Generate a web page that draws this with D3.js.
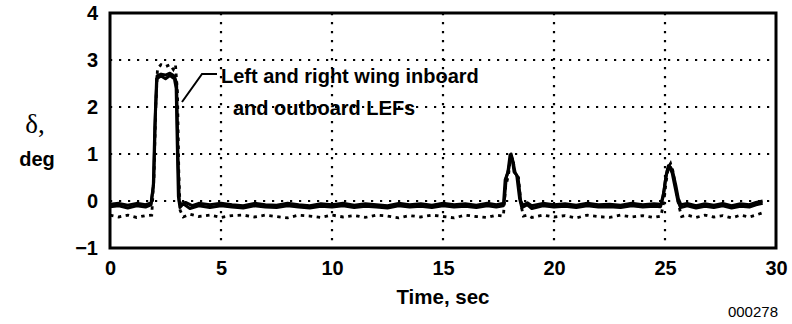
<!DOCTYPE html>
<html><head><meta charset="utf-8">
<script src="https://cdn.jsdelivr.net/npm/d3@7"></script>
<style>body{margin:0;background:#fff}svg{display:block}</style>
</head><body>
<script>
// ---- data ----
const xTicks = [0, 5, 10, 15, 20, 25, 30];
const yTicks = [-1, 0, 1, 2, 3, 4];
const yTickLabels = ["\u22121", "0", "1", "2", "3", "4"];
const xTitle = "Time, sec";
const yTitle1 = "\u03b4,";
const yTitle2 = "deg";
const noteLines = ["Left and right wing inboard", "and outboard LEFs"];
const figId = "000278";

// series: [time sec, deflection deg]
const inboardLEF = [[0,-0.12],[0.4,-0.1],[0.8,-0.15],[1.2,-0.1],[1.6,-0.13],[1.85,-0.08],[1.95,0.3],[2.02,1.6],[2.1,2.6],[2.3,2.66],[2.5,2.6],[2.7,2.67],[2.9,2.6],[2.98,2.4],[3.03,1.2],[3.08,0.1],[3.15,-0.14],[3.3,-0.06],[3.6,-0.16],[4,-0.1],[4.5,-0.14],[5,-0.1],[5.5,-0.13],[6,-0.15],[6.5,-0.1],[7,-0.13],[7.5,-0.14],[8,-0.1],[8.5,-0.13],[9,-0.15],[9.5,-0.11],[10,-0.13],[10.5,-0.1],[11,-0.14],[11.5,-0.11],[12,-0.13],[12.5,-0.15],[13,-0.1],[13.5,-0.13],[14,-0.11],[14.5,-0.14],[15,-0.1],[15.5,-0.13],[16,-0.11],[16.5,-0.14],[17,-0.1],[17.4,-0.13],[17.72,-0.1],[17.8,0.45],[17.92,0.6],[18.02,0.98],[18.12,0.9],[18.2,0.62],[18.32,0.55],[18.45,0.05],[18.55,-0.14],[18.8,-0.08],[19,-0.16],[19.5,-0.1],[20,-0.13],[20.5,-0.11],[21,-0.14],[21.5,-0.1],[22,-0.13],[22.5,-0.12],[23,-0.14],[23.5,-0.1],[24,-0.13],[24.5,-0.11],[24.8,-0.12],[24.92,0.1],[25.02,0.45],[25.12,0.68],[25.22,0.7],[25.32,0.6],[25.45,0.3],[25.58,0.0],[25.7,-0.14],[26,-0.1],[26.4,-0.15],[26.8,-0.11],[27.2,-0.14],[27.6,-0.1],[28,-0.15],[28.4,-0.11],[28.8,-0.13],[29.1,-0.08],[29.4,-0.05]];

const outboardLEF = [[0,-0.07],[0.4,-0.05],[0.8,-0.09],[1.2,-0.05],[1.6,-0.08],[1.85,-0.04],[1.97,0.4],[2.05,1.9],[2.12,2.66],[2.3,2.7],[2.5,2.68],[2.7,2.72],[2.9,2.66],[3.0,2.5],[3.06,1.0],[3.12,0.0],[3.2,-0.08],[3.4,-0.03],[3.7,-0.1],[4,-0.05],[4.5,-0.08],[5,-0.05],[5.5,-0.08],[6,-0.1],[6.5,-0.05],[7,-0.08],[7.5,-0.09],[8,-0.05],[8.5,-0.08],[9,-0.1],[9.5,-0.06],[10,-0.08],[10.5,-0.05],[11,-0.09],[11.5,-0.06],[12,-0.08],[12.5,-0.1],[13,-0.05],[13.5,-0.08],[14,-0.06],[14.5,-0.09],[15,-0.05],[15.5,-0.08],[16,-0.06],[16.5,-0.09],[17,-0.05],[17.4,-0.08],[17.75,-0.05],[17.85,0.5],[17.97,0.7],[18.07,1.0],[18.15,0.85],[18.25,0.6],[18.38,0.5],[18.5,0.0],[18.6,-0.09],[18.8,-0.04],[19,-0.1],[19.5,-0.05],[20,-0.08],[20.5,-0.06],[21,-0.09],[21.5,-0.05],[22,-0.08],[22.5,-0.07],[23,-0.09],[23.5,-0.05],[24,-0.08],[24.5,-0.06],[24.82,-0.07],[24.95,0.2],[25.05,0.55],[25.15,0.75],[25.25,0.72],[25.35,0.62],[25.48,0.35],[25.6,0.05],[25.72,-0.08],[26,-0.05],[26.4,-0.1],[26.8,-0.06],[27.2,-0.09],[27.6,-0.05],[28,-0.1],[28.4,-0.06],[28.8,-0.08],[29.1,-0.03],[29.4,0.0]];

const rightWingLEF = [[0,-0.3],[0.4,-0.34],[0.8,-0.3],[1.2,-0.35],[1.6,-0.31],[1.88,-0.3],[1.98,0.5],[2.06,2.0],[2.14,2.82],[2.3,2.9],[2.5,2.86],[2.7,2.9],[2.85,2.8],[2.95,2.9],[3.04,2.3],[3.1,0.6],[3.16,-0.2],[3.3,-0.34],[3.6,-0.28],[4,-0.33],[4.5,-0.3],[5,-0.35],[5.5,-0.31],[6,-0.3],[6.5,-0.34],[7,-0.3],[7.5,-0.33],[8,-0.36],[8.5,-0.3],[9,-0.32],[9.5,-0.35],[10,-0.3],[10.5,-0.34],[11,-0.31],[11.5,-0.35],[12,-0.3],[12.5,-0.32],[13,-0.36],[13.5,-0.31],[14,-0.34],[14.5,-0.3],[15,-0.33],[15.5,-0.36],[16,-0.3],[16.5,-0.33],[17,-0.35],[17.4,-0.3],[17.72,-0.32],[17.82,0.3],[17.95,0.55],[18.05,0.95],[18.15,0.9],[18.25,0.55],[18.4,0.5],[18.52,-0.1],[18.62,-0.32],[18.8,-0.3],[19,-0.35],[19.5,-0.3],[20,-0.34],[20.5,-0.31],[21,-0.36],[21.5,-0.3],[22,-0.33],[22.5,-0.35],[23,-0.3],[23.5,-0.34],[24,-0.31],[24.5,-0.35],[24.82,-0.32],[24.95,0.0],[25.05,0.4],[25.15,0.72],[25.25,0.8],[25.35,0.65],[25.48,0.3],[25.62,-0.1],[25.75,-0.33],[26,-0.3],[26.4,-0.35],[26.8,-0.3],[27.2,-0.34],[27.6,-0.31],[28,-0.36],[28.4,-0.3],[28.8,-0.34],[29.1,-0.3],[29.4,-0.25]];

// ---- chart ----
const W = 792, H = 324;
const svg = d3.select("body").append("svg").attr("width", W).attr("height", H);
const x = d3.scaleLinear().domain([0, 30]).range([110, 776]);
const y = d3.scaleLinear().domain([-1, 4]).range([248, 13]);
const bold = "'Liberation Sans', Arial, Helvetica, sans-serif";

// grid
const grid = svg.append("g").attr("stroke", "#000").attr("stroke-width", 2.2).attr("stroke-dasharray", "2.2,6.8");
grid.selectAll("line.v").data(xTicks.slice(1, -1)).join("line")
  .attr("x1", d => x(d)).attr("x2", d => x(d)).attr("y1", y(4)).attr("y2", y(-1));
grid.selectAll("line.h").data(yTicks.slice(1, -1)).join("line")
  .attr("x1", x(0)).attr("x2", x(30)).attr("y1", d => y(d)).attr("y2", d => y(d));

// lines
const line = d3.line().x(d => x(d[0])).y(d => y(d[1]));
svg.append("path").datum(rightWingLEF).attr("d", line).attr("fill", "none")
  .attr("stroke", "#000").attr("stroke-width", 2.8).attr("stroke-dasharray", "3.5,4.5");
svg.append("path").datum(inboardLEF).attr("d", line).attr("fill", "none")
  .attr("stroke", "#000").attr("stroke-width", 3).attr("stroke-linejoin", "round");
svg.append("path").datum(outboardLEF).attr("d", line).attr("fill", "none")
  .attr("stroke", "#000").attr("stroke-width", 3).attr("stroke-linejoin", "round");

// frame
svg.append("rect").attr("x", x(0)).attr("y", y(4)).attr("width", x(30) - x(0)).attr("height", y(-1) - y(4))
  .attr("fill", "none").attr("stroke", "#000").attr("stroke-width", 3);

// axes (labels only, via d3 axis)
const xAxis = svg.append("g").attr("transform", `translate(0,${y(-1)})`)
  .call(d3.axisBottom(x).tickValues(xTicks).tickSize(0).tickPadding(13).tickFormat(d3.format("d")));
xAxis.select(".domain").remove();
xAxis.selectAll("text").attr("font-family", bold).attr("font-weight", "bold").attr("font-size", 20).attr("fill", "#000");
const yAxis = svg.append("g").attr("transform", `translate(${x(0)},0)`)
  .call(d3.axisLeft(y).tickValues(yTicks).tickSize(0).tickPadding(12).tickFormat((d, i) => yTickLabels[i]));
yAxis.select(".domain").remove();
yAxis.selectAll("text").attr("font-family", bold).attr("font-weight", "bold").attr("font-size", 20).attr("fill", "#000");

// titles
svg.append("text").attr("x", (x(0) + x(30)) / 2).attr("y", 304).attr("text-anchor", "middle")
  .attr("font-family", bold).attr("font-weight", "bold").attr("font-size", 20.5).text(xTitle);
svg.append("text").attr("x", 35).attr("y", 133).attr("text-anchor", "middle")
  .attr("font-family", "'Liberation Serif', 'Times New Roman', serif").attr("font-size", 27).text(yTitle1);
svg.append("text").attr("x", 37).attr("y", 166).attr("text-anchor", "middle")
  .attr("font-family", bold).attr("font-weight", "bold").attr("font-size", 20).text(yTitle2);
svg.append("text").attr("x", 778).attr("y", 317).attr("text-anchor", "end")
  .attr("font-family", bold).attr("font-size", 15).text(figId);

// annotation
svg.append("path").attr("d", `M182,102 L202,74 L217,74`).attr("fill", "none").attr("stroke", "#000").attr("stroke-width", 2);
svg.append("text").attr("x", 221).attr("y", 83).attr("font-family", bold).attr("font-weight", "bold").attr("font-size", 20).text(noteLines[0]);
svg.append("text").attr("x", 233).attr("y", 115).attr("font-family", bold).attr("font-weight", "bold").attr("font-size", 20).text(noteLines[1]);
</script>
</body></html>
